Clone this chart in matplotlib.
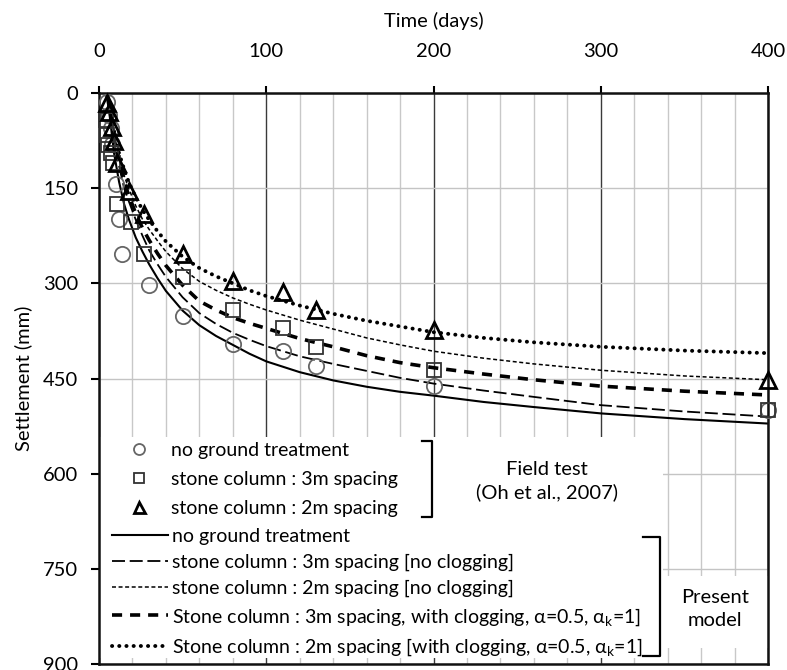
import matplotlib
matplotlib.use("Agg")
import matplotlib.pyplot as plt
from matplotlib.ticker import MultipleLocator
from matplotlib.patches import Rectangle
from matplotlib.lines import Line2D

plt.rcParams['font.family'] = ['Lato', 'DejaVu Sans']

# ---------------- data ----------------
# Field test (Oh et al., 2007)
t_circ = [5, 6, 7, 8, 10, 12, 14, 30, 50, 80, 110, 130, 200, 400]
s_circ = [14, 35, 55, 80, 143, 198, 253, 302, 351, 396, 406, 431, 462, 500]

t_sq = [4, 4.5, 5.5, 7, 8.5, 11, 19, 27, 50, 80, 110, 130, 200, 400]
s_sq = [42, 66, 82, 95, 110, 175, 203, 253, 290, 342, 371, 401, 436, 500]

t_tri = [5, 6, 7.5, 9, 10.5, 18, 27, 50, 80, 110, 130, 200, 400]
s_tri = [15, 30, 53, 75, 110, 155, 190, 253, 297, 313, 342, 374, 452]

# Present model
t_model = [5, 7, 9, 12, 15, 18, 22, 26, 30, 35, 40, 50, 60, 70, 80, 90, 100,
           120, 140, 160, 180, 200, 230, 260, 300, 350, 400]
s_none = [5, 50, 95, 140, 175, 200, 228, 250, 270, 292, 312, 343, 366, 383, 397, 411, 423,
          440, 453, 463, 471, 477, 487, 495, 505, 514, 521]
s_3m = [5, 40, 80, 115, 150, 172, 200, 225, 248, 270, 290, 322, 347, 364, 378, 389, 399,
        415, 427, 438, 449, 458, 469, 479, 492, 502, 510]
s_2m = [5, 33, 65, 100, 130, 152, 178, 199, 215, 233, 250, 277, 297, 311, 323, 333, 342,
        358, 372, 386, 397, 407, 418, 427, 437, 446, 452]
s_3m_clog = [5, 35, 72, 105, 140, 163, 190, 213, 232, 253, 272, 303, 328, 342, 354, 363, 371,
             387, 400, 414, 425, 433, 443, 452, 462, 470, 476]
s_2m_clog = [5, 30, 60, 95, 120, 142, 165, 184, 200, 218, 234, 258, 276, 289, 300, 311, 320,
             335, 348, 359, 368, 377, 386, 393, 400, 406, 410]

x_ticks = [0, 100, 200, 300, 400]
y_ticks = [0, 150, 300, 450, 600, 750, 900]

FS = 14.5
FSL = 14.0

# ---------------- figure ----------------
W, H = 787, 670
fig = plt.figure(figsize=(W / 100, H / 100), dpi=100)
L, R, T, B = 99, 768, 93, 664
ax = fig.add_axes([L / W, (H - B) / H, (R - L) / W, (B - T) / H])


def fx(px):
    return (px - L) / (R - L)


def fy(py):
    return (B - py) / (B - T)


ax.set_xlim(0, 400)
ax.set_ylim(900, 0)
ax.xaxis.tick_top()
ax.xaxis.set_label_position('top')
ax.set_xticks(x_ticks)
ax.set_yticks(y_ticks)
ax.xaxis.set_minor_locator(MultipleLocator(20))
ax.set_axisbelow(True)
ax.grid(which='minor', axis='x', color='#c8c8c8', lw=1.0)
ax.grid(which='major', axis='x', color='#3a3a3a', lw=1.0)
ax.grid(which='major', axis='y', color='#c4c4c4', lw=1.0)
ax.tick_params(axis='x', which='minor', length=0)
ax.tick_params(axis='x', which='major', length=5, width=1.5, pad=19, labelsize=FS)
ax.tick_params(axis='y', length=6, width=1.5, pad=9, labelsize=FS)
for sp in ax.spines.values():
    sp.set_linewidth(1.8)
    sp.set_color('#111111')

ax.set_xlabel('Time (days)', fontsize=FS, labelpad=11)
ax.set_ylabel('Settlement (mm)', fontsize=FS, labelpad=8)

# white areas behind the legend / annotation
ax.add_patch(Rectangle((0, fy(658)), fx(663), fy(437) - fy(658), transform=ax.transAxes,
                       fc='white', ec='none', zorder=1))
ax.add_patch(Rectangle((fx(663), fy(648)), 1 - fx(663), fy(576) - fy(648), transform=ax.transAxes,
                       fc='white', ec='none', zorder=1))

# model curves
l1, = ax.plot(t_model, s_none, color='black', lw=1.5, label='no ground treatment')
l2, = ax.plot(t_model, s_3m, color='black', lw=1.3, dashes=(7.2, 2.6),
              label='stone column : 3m spacing [no clogging]')
l3, = ax.plot(t_model, s_2m, color='black', lw=1.1, dashes=(2.6, 1.7),
              label='stone column : 2m spacing [no clogging]')
l4, = ax.plot(t_model, s_3m_clog, color='black', lw=2.6, dashes=(2.8, 2.2),
              label='Stone column : 3m spacing, with clogging, α=0.5, α$_{\\mathregular{k}}$=1]')
l5, = ax.plot(t_model, s_2m_clog, color='black', lw=2.8, dashes=(0.05, 1.8),
              dash_capstyle='round',
              label='Stone column : 2m spacing [with clogging, α=0.5, α$_{\\mathregular{k}}$=1]')

# field data
m1, = ax.plot(t_circ, s_circ, ls='none', marker='o', ms=11, mfc='none', mec='#666666', mew=1.3,
              clip_on=False, zorder=3, label='no ground treatment')
m2, = ax.plot(t_sq, s_sq, ls='none', marker='s', ms=10.5, mfc='none', mec='#333333', mew=1.3,
              clip_on=False, zorder=3, label='stone column : 3m spacing')
m3, = ax.plot(t_tri, s_tri, ls='none', marker='^', ms=11, mfc='none', mec='black', mew=2.0,
              clip_on=False, zorder=3, label='stone column : 2m spacing')

leg1 = ax.legend(handles=[m1, m2, m3], loc='upper left', bbox_to_anchor=(fx(121), fy(442)),
                 frameon=False, fontsize=FSL, handlelength=1.9, handletextpad=0.65,
                 labelspacing=0.62, borderpad=0, borderaxespad=0, markerscale=0.72, numpoints=1)
ax.add_artist(leg1)
leg2 = ax.legend(handles=[l1, l2, l3, l4, l5], loc='upper left', bbox_to_anchor=(fx(112), fy(528)),
                 frameon=False, fontsize=FSL, handlelength=2.9, handletextpad=0.2,
                 labelspacing=0.45, borderpad=0, borderaxespad=0)

# annotations
ax.text(fx(547), fy(481), 'Field test\n(Oh et al., 2007)', transform=ax.transAxes,
        ha='center', va='center', fontsize=FS, linespacing=1.4, zorder=6)
ax.text(fx(715), fy(609), 'Present\nmodel', transform=ax.transAxes,
        ha='center', va='center', fontsize=FS, linespacing=1.45, zorder=6)

# brackets
ax.add_line(Line2D([fx(422), fx(432), fx(432), fx(422)], [fy(441), fy(441), fy(517), fy(517)],
                   transform=ax.transAxes, color='black', lw=1.6, zorder=6, clip_on=False))
ax.add_line(Line2D([fx(643), fx(660), fx(660), fx(643)], [fy(537), fy(537), fy(656), fy(656)],
                   transform=ax.transAxes, color='black', lw=1.6, zorder=6, clip_on=False))

fig.savefig('out.png', dpi=100)
